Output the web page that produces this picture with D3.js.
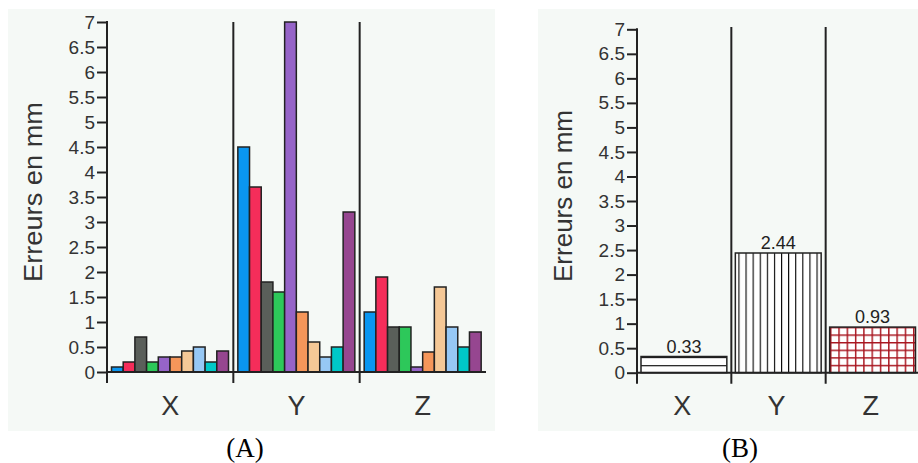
<!DOCTYPE html>
<html><head><meta charset="utf-8">
<script src="https://cdn.jsdelivr.net/npm/d3@7"></script>
<style>body{margin:0;background:#fff}svg{display:block}</style>
</head><body>
<svg id="c" width="918" height="463"></svg>
<script>
const categories = ["X", "Y", "Z"];
const seriesColors = ["#0a96f0","#f52d5a","#5a5f5a","#2dc85a","#9664c8","#f5965a","#f5c896","#96c8f5","#00c8c8","#964690"];
const valuesX = [0.1, 0.2, 0.7, 0.2, 0.3, 0.3, 0.42, 0.5, 0.2, 0.42];
const valuesY = [4.5, 3.7, 1.8, 1.6, 7.0, 1.2, 0.6, 0.3, 0.5, 3.2];
const valuesZ = [1.2, 1.9, 0.9, 0.9, 0.1, 0.4, 1.7, 0.9, 0.5, 0.8];
const meansB = [0.33, 2.44, 0.93];
const yTicks = [0,0.5,1,1.5,2,2.5,3,3.5,4,4.5,5,5.5,6,6.5,7];
const yLabel = "Erreurs en mm";
const captions = ["(A)", "(B)"];

const svg = d3.select("#c");
const ink = "#222";
const sans = "'Liberation Sans', Arial, sans-serif";

// patterns
const defs = svg.append("defs");
const pH = defs.append("pattern").attr("id","pH").attr("patternUnits","userSpaceOnUse").attr("width",8).attr("height",8.3);
pH.append("rect").attr("width",8).attr("height",8.3).attr("fill","#fff");
pH.append("line").attr("x1",0).attr("x2",8).attr("y1",0.5).attr("y2",0.5).attr("stroke","#000").attr("stroke-width",1.2);
const pV = defs.append("pattern").attr("id","pV").attr("patternUnits","userSpaceOnUse").attr("width",7.1).attr("height",8);
pV.append("rect").attr("width",7.1).attr("height",8).attr("fill","#fff");
pV.append("line").attr("y1",0).attr("y2",8).attr("x1",0.5).attr("x2",0.5).attr("stroke","#000").attr("stroke-width",1.2);
const pG = defs.append("pattern").attr("id","pG").attr("patternUnits","userSpaceOnUse").attr("width",8.3).attr("height",7.6);
pG.append("rect").attr("width",8.3).attr("height",7.6).attr("fill","#fff");
pG.append("line").attr("y1",0).attr("y2",7.6).attr("x1",0.7).attr("x2",0.7).attr("stroke","#a8141e").attr("stroke-width",1.5);
pG.append("line").attr("x1",0).attr("x2",8.3).attr("y1",0.7).attr("y2",0.7).attr("stroke","#a8141e").attr("stroke-width",1.5);

function panel(o) {
  const g = svg.append("g");
  g.append("rect").attr("x",o.bg[0]).attr("y",o.bg[1]).attr("width",o.bg[2]).attr("height",o.bg[3]).attr("fill","#f5f9f6");
  const y = d3.scaleLinear().domain([0,7]).range([o.y0, o.y7]);
  const x = d3.scaleBand().domain(categories).range([o.ax, o.xEnd]).padding(0);
  // separators
  const seps = categories.slice(1).map(c => x(c));
  g.selectAll(".sep").data(seps).join("line")
    .attr("x1",d=>d).attr("x2",d=>d).attr("y1",o.sepTop).attr("y2",o.y0+11)
    .attr("stroke",ink).attr("stroke-width",2);
  o.drawBars(g, x, y);
  // baseline
  g.append("line").attr("x1",o.ax).attr("x2",o.baseEnd).attr("y1",y(0)).attr("y2",y(0)).attr("stroke",ink).attr("stroke-width",2);
  // y axis
  const axis = d3.axisLeft(y).tickValues(yTicks).tickSize(10).tickPadding(2).tickSizeOuter(0)
    .tickFormat(d => String(d));
  const ag = g.append("g").attr("transform",`translate(${o.ax},0)`).call(axis);
  ag.select(".domain").remove();
  ag.selectAll(".tick line").attr("stroke",ink).attr("stroke-width",2);
  ag.selectAll(".tick text").attr("font-family",sans).attr("font-size",19).attr("fill","#333");
  g.append("line").attr("x1",o.ax).attr("x2",o.ax).attr("y1",y(7)-1).attr("y2",y(0)+11).attr("stroke",ink).attr("stroke-width",2);
  // category labels
  g.selectAll(".cat").data(categories).join("text")
    .attr("x",d=>x(d)+x.bandwidth()/2+o.catDx).attr("y",415)
    .attr("text-anchor","middle").attr("font-family",sans).attr("font-size",27).attr("fill","#333")
    .text(d=>d);
  // y label
  g.append("text").attr("transform",`translate(${o.labX},${o.labY}) rotate(-90)`)
    .attr("text-anchor","middle").attr("font-family",sans).attr("font-size",26).attr("fill","#333")
    .attr("textLength",o.labLen).attr("lengthAdjust","spacingAndGlyphs")
    .text(yLabel);
  // caption
  g.append("text").attr("x",o.capX).attr("y",457).attr("text-anchor","middle")
    .attr("font-family","'Liberation Serif', 'Times New Roman', serif").attr("font-size",27).attr("fill","#000")
    .text(o.caption);
}

const groupValues = [valuesX, valuesY, valuesZ];

panel({
  bg:[8,9,487,422], y0:372, y7:22, ax:107, xEnd:486, baseEnd:486, sepTop:22,
  catDx:0, labX:42, labY:192, labLen:180, capX:245, caption:captions[0],
  drawBars(g, x, y) {
    const inner = d3.scaleBand().domain(d3.range(seriesColors.length)).range([4.5, 121.5]);
    categories.forEach((c, ci) => {
      g.append("g").attr("transform",`translate(${x(c)},0)`)
        .selectAll("rect").data(groupValues[ci]).join("rect")
        .attr("x",(d,i)=>inner(i)).attr("width",inner.bandwidth())
        .attr("y",d=>y(d)).attr("height",d=>y(0)-y(d))
        .attr("fill",(d,i)=>seriesColors[i]).attr("stroke",ink).attr("stroke-width",1.5);
    });
  }
});

const patterns = ["url(#pH)","url(#pV)","url(#pG)"];
panel({
  bg:[538,9,380,422], y0:372.7, y7:29.3, ax:637, xEnd:920, baseEnd:918, sepTop:27,
  catDx:-2, labX:572, labY:196, labLen:172, capX:740, caption:captions[1],
  drawBars(g, x, y) {
    g.selectAll(".bb").data(meansB).join("rect")
      .attr("x",(d,i)=>x(categories[i])+4).attr("width",x.bandwidth()-8.5)
      .attr("y",d=>y(d)).attr("height",d=>y(0)-y(d))
      .attr("fill",(d,i)=>patterns[i]).attr("stroke",ink).attr("stroke-width",1.5);
    g.selectAll(".bl").data(meansB).join("text")
      .attr("x",(d,i)=>x(categories[i])+4+(x.bandwidth()-8.5)/2).attr("y",d=>y(d)-4)
      .attr("text-anchor","middle").attr("font-family",sans).attr("font-size",18).attr("fill","#222")
      .text(d=>d.toFixed(2));
  }
});
</script>
</body></html>
